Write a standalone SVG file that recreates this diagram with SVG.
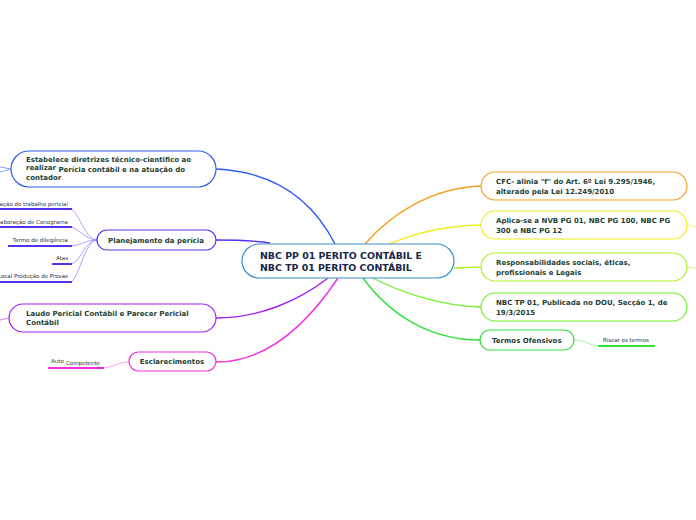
<svg xmlns="http://www.w3.org/2000/svg" width="696" height="520" viewBox="0 0 696 520">
<style>
.n{fill:#fff;stroke-width:1.2}
.t{font-family:"DejaVu Sans",Verdana,sans-serif;font-weight:bold;font-size:7px;fill:#1d3f33}
.c{font-family:"DejaVu Sans",Verdana,sans-serif;font-weight:bold;font-size:9.4px;fill:#1a2748}
.s{font-family:"DejaVu Sans",Verdana,sans-serif;font-size:5.5px;fill:#333}
.k{fill:none;stroke-width:1.4}
.th{fill:none;stroke-width:0.8}
.u{fill:none;stroke-width:2}
</style>
<rect width="696" height="520" fill="#fff"/>
<g id="connectors">
<path class="k" stroke="#2d5cf0" d="M335,244 C315,205 280,172 216,169"/>
<path class="k" stroke="#5530f0" d="M270,243 C250,240 235,240 216,240"/>
<path class="k" stroke="#a020f0" d="M328,278 C300,300 260,318 216,318"/>
<path class="k" stroke="#f030e0" d="M338,278 C310,320 270,362 216,362"/>
<path class="k" stroke="#f5a020" d="M365,244 C390,215 430,188 481,186"/>
<path class="k" stroke="#f0f020" d="M390,244 C410,235 440,226 481,225"/>
<path class="k" stroke="#b0f030" d="M454,268 C465,268 470,267 481,267"/>
<path class="k" stroke="#70f030" d="M373,278 C400,292 440,306 481,307"/>
<path class="k" stroke="#30e040" d="M363,278 C390,315 430,340 480,340"/>
<path class="th" stroke="#6a8cf5" d="M11,169 L0,172"/>
<path class="th" stroke="#6a8cf5" d="M11,169 L0,167"/>
<path class="th" stroke="#c060f5" d="M9,318 L0,320"/>
<path class="th" stroke="#f5f060" d="M687,225 L696,227"/>
<path class="th" stroke="#c0f060" d="M687,267 L696,268"/>
<path class="th" stroke="#9d8cf5" d="M97,240 C85,240 78,209 70,209"/>
<path class="th" stroke="#9d8cf5" d="M97,240 C85,240 78,227 70,227"/>
<path class="th" stroke="#9d8cf5" d="M97,240 C85,240 80,246 70,246"/>
<path class="th" stroke="#9d8cf5" d="M97,240 C85,240 80,264 70,264"/>
<path class="th" stroke="#9d8cf5" d="M97,240 C85,240 78,282 70,282"/>
<path class="th" stroke="#f590ec" d="M129,362 C118,362 112,368 102,368"/>
<path class="th" stroke="#90f090" d="M574,340 C585,340 590,346 600,346"/>
</g>
<g id="center">
<rect class="n" x="242" y="244" width="212" height="34" rx="17" stroke="#3a8fd0"/>
<text class="c" x="260" y="259">NBC PP 01 PERITO CONTÁBIL E</text>
<text class="c" x="260" y="271">NBC TP 01 PERITO CONTÁBIL</text>
</g>
<g id="n-estabelece">
<rect class="n" x="11" y="151" width="205" height="36" rx="18" stroke="#2d5cf0"/>
<text class="t" x="26" y="162">Estabelece diretrizes técnico-cientifico ao</text>
<text class="t" x="26" y="170">realizar <tspan y="172">Perícia contábil e na atuação do</tspan></text>
<text class="t" x="26" y="180">contador</text>
</g>
<g id="n-planejamento">
<rect class="n" x="97" y="230" width="119" height="20" rx="10" stroke="#5530f0"/>
<text class="t" x="156" y="243" text-anchor="middle" font-size="7.3">Planejamento da perícia</text>
</g>
<g id="p-1">
<text class="s" x="68" y="206" text-anchor="end">Organização do trabalho pericial</text>
<path class="u" stroke="#5530f0" d="M0,209 H72"/>
</g>
<g id="p-2">
<text class="s" x="68" y="224" text-anchor="end">Elaboração de Conograma</text>
<path class="u" stroke="#5530f0" d="M0,227 H72"/>
</g>
<g id="p-3">
<text class="s" x="68" y="242" text-anchor="end">Termo de dilegência</text>
<path class="u" stroke="#5530f0" d="M8,246 H72"/>
</g>
<g id="p-4">
<text class="s" x="68" y="260" text-anchor="end">Atas</text>
<path class="u" stroke="#5530f0" d="M52,264 H72"/>
</g>
<g id="p-5">
<text class="s" x="68" y="278" text-anchor="end">Local Produção de Provas</text>
<path class="u" stroke="#5530f0" d="M0,282 H72"/>
</g>
<g id="n-laudo">
<rect class="n" x="9" y="304" width="207" height="28" rx="14" stroke="#a020f0"/>
<text class="t" x="26" y="316">Laudo Pericial Contábil e Parecer Pericial</text>
<text class="t" x="26" y="325">Contábil</text>
</g>
<g id="n-esclarecimentos">
<rect class="n" x="129" y="352" width="87" height="19" rx="9.5" stroke="#f030e0"/>
<text class="t" x="172" y="364" text-anchor="middle" font-size="7.3">Esclarecimentos</text>
</g>
<g id="e-1">
<text class="s" x="51" y="363">Auto <tspan x="66" y="364.5">Competente</tspan></text>
<path class="u" stroke="#f030e0" d="M48,368 H104"/>
</g>
<g id="n-cfc">
<rect class="n" x="481" y="172" width="206" height="28" rx="14" stroke="#f5a020"/>
<text class="t" x="496" y="184">CFC- alinia "f" do Art. 6º Lei 9.295/1946,</text>
<text class="t" x="496" y="194">alterado pela Lei 12.249/2010</text>
</g>
<g id="n-aplica">
<rect class="n" x="481" y="211" width="206" height="28" rx="14" stroke="#f0f020"/>
<text class="t" x="496" y="223">Aplica-se a NVB PG 01, NBC PG 100, NBC PG</text>
<text class="t" x="496" y="233">300 e NBC PG 12</text>
</g>
<g id="n-resp">
<rect class="n" x="481" y="253" width="206" height="28" rx="14" stroke="#b0f030"/>
<text class="t" x="496" y="265">Responsabilidades sociais, éticas,</text>
<text class="t" x="496" y="275">profissionais e Legais</text>
</g>
<g id="n-nbctp">
<rect class="n" x="481" y="293" width="206" height="28" rx="14" stroke="#70f030"/>
<text class="t" x="496" y="305">NBC TP 01, Publicada no DOU, Secção 1, de</text>
<text class="t" x="496" y="315">19/3/2015</text>
</g>
<g id="n-termos">
<rect class="n" x="480" y="330" width="94" height="20" rx="10" stroke="#30e040"/>
<text class="t" x="492" y="343" font-size="7.3">Termos Ofensivos</text>
</g>
<g id="t-1">
<text class="s" x="603" y="342">Riscar os termos</text>
<path class="u" stroke="#30e040" d="M598,346 H655"/>
</g>
</svg>
